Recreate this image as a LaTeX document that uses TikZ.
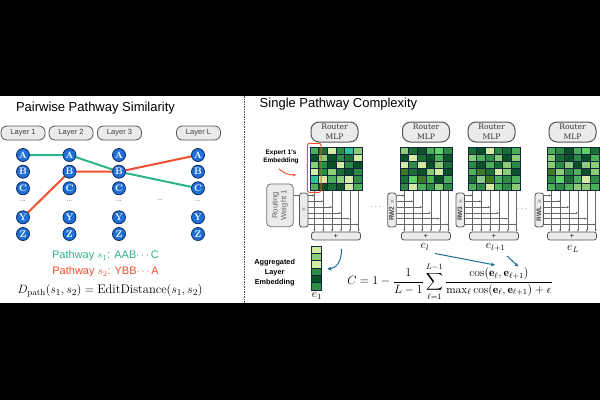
\documentclass[tikz,border=0pt]{standalone}
\usepackage{fontspec}
\usepackage{amsmath}
\setsansfont{Liberation Sans}
\newfontfamily\serifr{DejaVu Serif}
\usetikzlibrary{arrows.meta,calc}
\definecolor{nodeblue}{HTML}{1E6FD9}
\definecolor{navy}{HTML}{0F2E5E}
\definecolor{pgreen}{HTML}{2DB58A}
\definecolor{pred}{HTML}{F2502E}
\definecolor{pillfill}{HTML}{EBEBEB}
\definecolor{pillline}{HTML}{555555}
\definecolor{arrblue}{HTML}{1B6E99}
\definecolor{gridc}{HTML}{13253A}
\definecolor{g1}{HTML}{0A5128}
\definecolor{g2}{HTML}{1B6F35}
\definecolor{g3}{HTML}{2E8B46}
\definecolor{g4}{HTML}{4CAF5A}
\definecolor{g5}{HTML}{8CCB78}
\definecolor{g6}{HTML}{D5EBA3}
\definecolor{g7}{HTML}{2BC49A}
\definecolor{g8}{HTML}{3D7A22}
\definecolor{g9}{HTML}{5ED36A}
\pgfdeclarelayer{bg}
\pgfsetlayers{bg,main}
\tikzset{
  titletext/.style={font=\sffamily\fontsize{13}{15}\selectfont, text=black},
  pill/.style={draw=pillline, fill=pillfill, rounded corners=6pt, line width=0.8pt, minimum width=44pt, minimum height=14pt, inner sep=0pt, font=\sffamily\fontsize{7.5}{8}\selectfont, text=black!75},
  expnode/.style={circle, draw=navy, fill=nodeblue, line width=0.8pt, minimum size=13pt, inner sep=0pt, text=white, font=\bfseries\fontsize{9.5}{9.5}\selectfont},
  vdots/.style={font=\sffamily\fontsize{7}{7}\selectfont, text=black!60, inner sep=0pt},
  pathline/.style={line width=2pt},
  router/.style={draw=pillline, fill=pillfill, rounded corners=8pt, line width=1pt, minimum width=47pt, minimum height=20pt, inner sep=0pt, align=center, font=\serifr\fontsize{7.6}{10}\selectfont, text=black!80},
  plusbar/.style={draw=pillline, fill=pillfill, rounded corners=2.5pt, line width=0.8pt, minimum width=49pt, minimum height=8pt, inner sep=0pt, font=\sffamily\fontsize{7}{7}\selectfont},
  xbox/.style={draw=pillline, fill=pillfill, rounded corners=2.5pt, line width=0.8pt, minimum width=8.5pt, minimum height=34pt, inner sep=0pt, font=\sffamily\bfseries\fontsize{6.5}{6.5}\selectfont, text=black!75},
  conn/.style={draw=black!60, line width=0.5pt, -{Stealth[length=2.2pt,width=2pt]}},
  barr/.style={draw=arrblue, line width=1pt, -{Stealth[length=4pt,width=4pt]}},
  smallbold/.style={font=\sffamily\bfseries\fontsize{6.5}{8.3}\selectfont, align=center, inner sep=0pt},
}
\newcommand\drawmat[4]{%
  \foreach \c [count=\i from 0] in {#4}{%
    \pgfmathtruncatemacro\rr{floor(\i/6)}%
    \pgfmathtruncatemacro\cc{\i-6*\rr}%
    \filldraw[fill=\c, draw=gridc, line width=0.7pt] ({#2+\cc*8.667},{#3+\rr*7.2}) rectangle ++(8.667,7.2);
  }
  \node[draw=gridc, line width=1pt, minimum width=52pt, minimum height=43.2pt, inner sep=0pt, anchor=north west] (#1) at (#2,#3) {};
  \foreach \j in {0,...,5}{%
    \coordinate (#1b\j) at ($(#1.south west)!{(\j+0.5)/6}!(#1.south east)$);
  }
}
\newcommand\layerwires[3]{% #1 matrix, #2 bar, #3 xbox
  \foreach \j in {0,...,5}{%
    \draw[conn] (#1b\j) -- (#1b\j |- #2.north);
    \coordinate (#3r\j) at ($(#3.north east)!{(\j+0.5)/6}!(#3.south east)$);
    \draw[conn] (#3r\j) -- (#3r\j -| #1b\j);
  }
}
\begin{document}
\begin{tikzpicture}[x=1pt,y=-1pt]
\useasboundingbox (0,0) rectangle (600,400);
\begin{pgfonlayer}{bg}
  \fill[black] (0,0) rectangle (600,400);
  \fill[white] (0,96) rectangle (600,303);
\end{pgfonlayer}

% ---------- left panel ----------
\node[titletext] (t1) at (95.5,108.5) {Pairwise Pathway Similarity};
\node[pill] (L1) at (23,133) {Layer 1};
\node[pill] (L2) at (71,133) {Layer 2};
\node[pill] (L3) at (119.5,133) {Layer 3};
\node[pill] (LL) at (198.5,133) {Layer L};

\foreach \cx/\cn in {23/1, 69.5/2, 119/3, 198/L}{
  \foreach \ry/\rl in {155/A, 171.7/B, 188.3/C, 217.3/Y, 234/Z}{
    \node[expnode] (n\cn\rl) at (\cx,\ry) {\rl};
  }
  \node[vdots] (d\cn) at (\cx,201) {...};
}
\node[vdots] (dmid) at (160,200) {...};

\begin{pgfonlayer}{bg}
  \draw[pathline, pgreen] (n1A.center) -- (n2A.center) -- (n3B.center) -- (nLC.center);
  \draw[pathline, pred] (n1Y.center) -- (n2B.center) -- (n3B.center) -- (nLA.center);
\end{pgfonlayer}

\node[font=\sffamily\fontsize{11}{12}\selectfont, text=pgreen] (p1) at (105.5,255.7) {Pathway $s_1$: AAB$\cdots$C};
\node[font=\sffamily\fontsize{11}{12}\selectfont, text=pred] (p2) at (105.5,271.7) {Pathway $s_2$: YBB$\cdots$A};
\node[font=\fontsize{12.5}{14}\selectfont] (fd) at (110,291) {$D_{\mathrm{path}}(s_1,s_2)=\mathrm{EditDistance}(s_1,s_2)$};

% divider
\draw[black!70, line width=1pt, dash pattern=on 1.5pt off 1pt] (244.5,96) -- (244.5,303);

% ---------- right panel ----------
\node[titletext] (t2) at (338.5,104) {Single Pathway Complexity};

\node[router] (R1) at (334.5,132) {Router\\MLP};
\node[router] (R2) at (426,132) {Router\\MLP};
\node[router] (R3) at (491.5,132) {Router\\MLP};
\node[router] (R4) at (572.5,132) {Router\\MLP};

\drawmat{M1}{310}{147}{g4,g2,g6,g3,g7,g5, g1,g5,g1,g3,g2,g6, g5,g3,g1,g6,g3,g1, g6,g3,g5,g2,g1,g3, g7,g6,g4,g5,g6,g3, g4,g1,g2,g1,g6,g4}
\drawmat{M2}{400}{147}{g5,g2,g1,g4,g9,g3, g1,g6,g2,g1,g4,g1, g6,g3,g6,g1,g5,g2, g8,g2,g1,g5,g6,g1, g2,g9,g8,g4,g1,g4, g3,g6,g4,g3,g5,g3}
\drawmat{M3}{468}{147}{g2,g1,g6,g3,g2,g4, g5,g4,g3,g5,g1,g5, g3,g1,g4,g2,g5,g3, g4,g8,g2,g6,g5,g1, g2,g5,g8,g4,g3,g4, g4,g3,g6,g4,g3,g5}
\drawmat{M4}{547}{147}{g4,g3,g1,g4,g9,g2, g5,g2,g1,g3,g1,g4, g5,g3,g5,g1,g5,g5, g8,g5,g3,g4,g1,g5, g3,g9,g2,g4,g6,g3, g4,g3,g4,g5,g5,g4}

\node[plusbar] (B1) at (336,236) {+};
\node[plusbar] (B2) at (426,236) {+};
\node[plusbar] (B3) at (494,236) {+};
\node[plusbar] (B4) at (572,236) {+};

\node[xbox] (X1) at (303.8,210) {\rotatebox{90}{$\times$}};
\node[xbox] (X2) at (392,210) {\rotatebox{90}{RW2 $\times$}};
\node[xbox] (X3) at (460.3,210) {\rotatebox{90}{RW3 $\times$}};
\node[xbox] (X4) at (539.2,210) {\rotatebox{90}{RWL $\times$}};

\node[draw=black!55, fill=pillfill, rounded corners=4pt, line width=0.8pt, minimum width=26.6pt, minimum height=42.7pt, inner sep=0pt] (RW) at (280,205.3)
  {\rotatebox{90}{\parbox{40pt}{\centering\sffamily\fontsize{7.8}{8.6}\selectfont\color{black!60}Routing\\Weight 1}}};

\layerwires{M1}{B1}{X1}
\layerwires{M2}{B2}{X2}
\layerwires{M3}{B3}{X3}
\layerwires{M4}{B4}{X4}
\draw[black!60, line width=0.5pt] (RW.east |- X1r0) -- (X1.west |- X1r0);

\node[font=\fontsize{9}{9}\selectfont, text=black!70] (dl1) at (376.7,207) {$\cdots$};
\node[font=\fontsize{9}{9}\selectfont, text=black!70] (dl2) at (523,209) {$\cdots$};

% expert highlight
\draw[pred, line width=1pt, rounded corners=2pt] (307.3,143.3) rectangle (321,192.3);
\node[smallbold] (exl) at (281,157) {Expert 1's\\Embedding};
\coordinate (ea1) at (279,169);
\coordinate (ea2) at (296,175);
\draw[pred, line width=1pt, -{Stealth[length=3pt,width=3pt]}] (ea1) to[bend right=20] (ea2);

% e labels
\node[font=\fontsize{12}{12}\selectfont, inner sep=1pt] (el) at (425,247.3) {$e_l$};
\node[font=\fontsize{12}{12}\selectfont, inner sep=1pt] (el1) at (495.7,247.3) {$e_{l+1}$};
\node[font=\fontsize{12}{12}\selectfont, inner sep=1pt] (eL) at (573,249) {$e_L$};

% aggregated embedding
\foreach \c [count=\i from 0] in {g6,g5,g6,g3,g1,g3}{
  \filldraw[fill=\c, draw=gridc, line width=0.7pt] (311,{246+\i*7.33}) rectangle ++(10,7.33);
}
\node[draw=gridc, line width=0.9pt, minimum width=10pt, minimum height=44pt, inner sep=0pt, anchor=north west] (AGG) at (311,246) {};
\node[font=\fontsize{12}{12}\selectfont, inner sep=1pt] (e1) at (317,296) {$e_1$};
\node[font=\sffamily\bfseries\fontsize{7.3}{10}\selectfont, align=center] (aggl) at (274.7,272.7) {Aggregated\\Layer\\Embedding};

\coordinate (bs) at (341.5,249);
\coordinate (be) at (327.5,269);
\draw[barr] (bs) .. controls (341.5,261) and (337,268) .. (be);

% formula
\node[font=\fontsize{11.5}{13}\selectfont, inner sep=0pt] (fc) at (450,281.7)
  {$\displaystyle C=1-\frac{1}{L-1}\sum_{\ell=1}^{L-1}\frac{\cos(\mathbf{e}_\ell,\mathbf{e}_{\ell+1})}{\max_\ell \cos(\mathbf{e}_\ell,\mathbf{e}_{\ell+1})+\epsilon}$};

\coordinate (a1s) at (435,253.5);
\coordinate (a1e) at (495,265);
\coordinate (a2s) at (507,256);
\coordinate (a2e) at (518.3,266.5);
\draw[barr] (a1s) -- (a1e);
\draw[barr] (a2s) -- (a2e);
\end{tikzpicture}
\end{document}
